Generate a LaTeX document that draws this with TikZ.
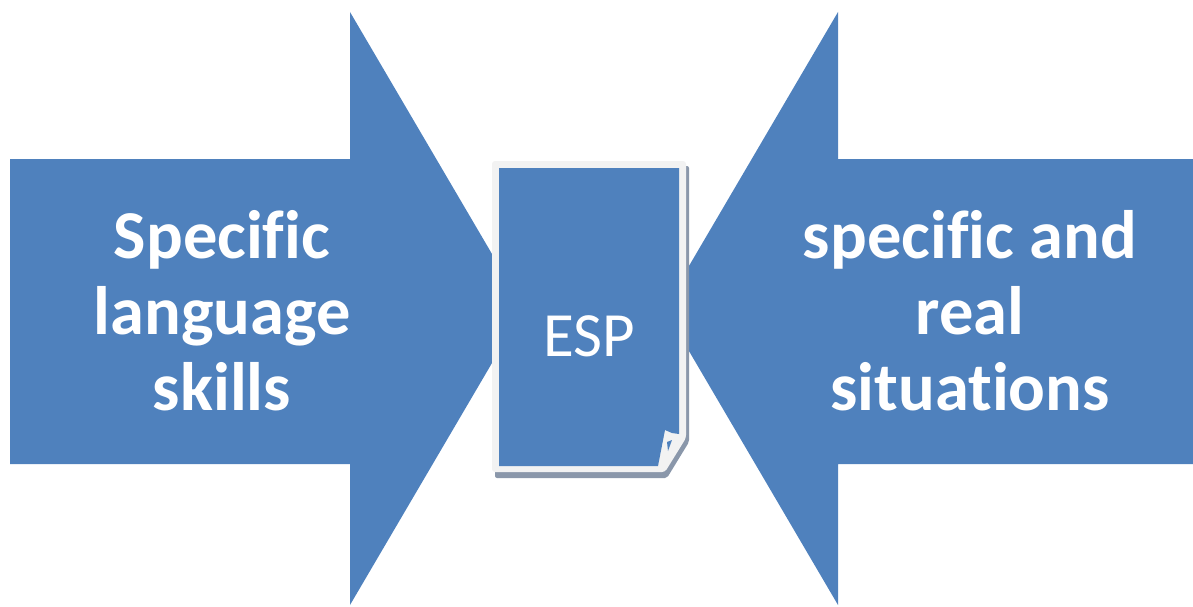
\documentclass[tikz,border=0pt]{standalone}
\usepackage{fontspec}
\setmainfont{Carlito}[Ligatures=NoCommon]
\definecolor{arrowblue}{HTML}{4F81BD}
\definecolor{pagegray}{HTML}{F2F2F2}
\definecolor{shadowgray}{HTML}{8A97AA}
\begin{document}
\begin{tikzpicture}[x=1pt,y=-1pt,
  arrowshape/.style={fill=arrowblue,draw=none},
  bigtext/.style={text=white,font=\fontsize{68.5}{76}\selectfont\bfseries,align=center,inner sep=0pt},
  esptext/.style={text=white,font=\fontsize{63}{70}\selectfont,inner sep=0pt}]
\useasboundingbox (0,0) rectangle (1193,607);
% left arrow
\fill[arrowshape] (10,159) -- (350,159) -- (350,12) -- (524,308.5) -- (350,605) -- (350,464) -- (10,464) -- cycle;
% right arrow
\fill[arrowshape] (1193,159) -- (838,159) -- (838,12) -- (664,308.5) -- (838,605) -- (838,464) -- (1193,464) -- cycle;
% page shadow
\fill[shadowgray, rounded corners=2pt] (495,166) -- (689,166) -- (689,442) -- (667,478) -- (495,478) -- cycle;
% page border
\fill[pagegray, rounded corners=3pt] (492,161) -- (686,161) -- (686,438) -- (665,472) -- (492,472) -- cycle;
% page body
\fill[arrowblue] (499,168) -- (679,168) -- (679,434) -- (672,433) -- (665,430) -- (658,466) -- (499,466) -- cycle;
\fill[arrowblue] (667,442) -- (672,440) -- (668,451) -- cycle;
\node[esptext] (esp) at (589,336) {ESP};
\node[bigtext] (left) at (222,311) {Specific\\language\\skills};
\node[bigtext] (right) at (970,311) {specific and\\real\\situations};
\end{tikzpicture}
\end{document}
